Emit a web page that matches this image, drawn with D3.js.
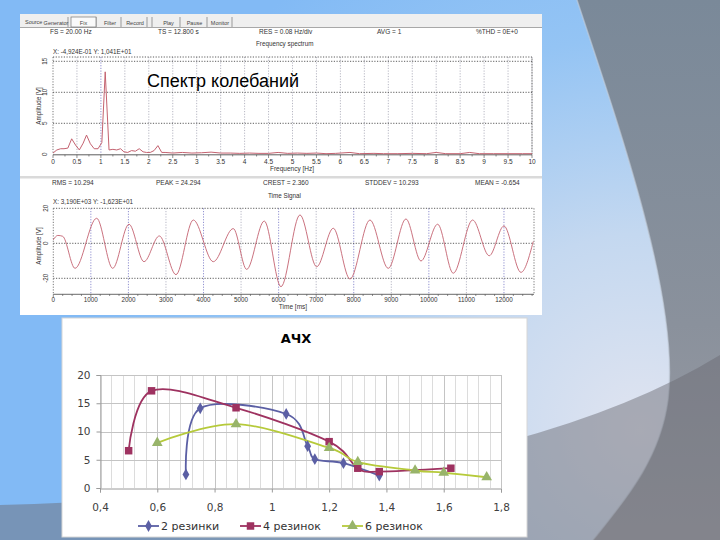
<!DOCTYPE html>
<html><head><meta charset="utf-8">
<script src="https://cdn.jsdelivr.net/npm/d3@7"></script>
<style>html,body{margin:0;padding:0;overflow:hidden;background:#fff}</style>
</head><body>
<svg id="c" width="720" height="540" xmlns="http://www.w3.org/2000/svg"></svg>
<script>
// ---------------- DATA ----------------
// АЧХ chart
const achxTitle = "АЧХ";
const seriesNames = ["2 резинки", "4 резинок", "6 резинок"];
const x2 = [0.7, 0.75, 1.05, 1.125, 1.15, 1.25, 1.375];
const y2 = [2.4, 14.1, 13.1, 7.4, 5.1, 4.4, 2.2];
const x4 = [0.5, 0.58, 0.875, 1.2, 1.3, 1.375, 1.625];
const y4 = [6.6, 17.2, 14.2, 8.2, 3.5, 2.9, 3.5];
const x6 = [0.6, 0.875, 1.2, 1.3, 1.5, 1.6, 1.75];
const y6 = [8.0, 11.3, 7.1, 4.6, 3.1, 2.7, 1.9];
const achxXTicks = [0.4, 0.6, 0.8, 1, 1.2, 1.4, 1.6, 1.8];
const achxXLabels = ["0,4", "0,6", "0,8", "1", "1,2", "1,4", "1,6", "1,8"];
const achxYTicks = [0, 5, 10, 15, 20];

// Frequency spectrum (screenshot)
const specFreq = [0, 0.08, 0.16, 0.23, 0.31, 0.39, 0.47, 0.55, 0.63, 0.70, 0.78, 0.86, 0.94, 1.02, 1.09, 1.17, 1.25, 1.33, 1.41, 1.48, 1.56, 1.64, 1.72, 1.80, 1.88, 1.95, 2.03, 2.11, 2.19, 2.27, 2.34, 2.5, 2.7, 2.9, 3.1, 3.3, 3.5, 3.7, 3.9, 4.1, 4.3, 4.5, 4.7, 4.9, 5.1, 5.3, 5.5, 5.7, 5.9, 6.2, 6.4, 6.7, 6.9, 7.2, 7.5, 7.8, 8.0, 8.2, 8.5, 8.7, 8.9, 9.2, 9.5, 9.8, 10];
const specAmp  = [0.2, 0.7, 0.9, 0.9, 1.0, 2.5, 1.5, 0.7, 1.8, 3.1, 1.7, 0.9, 0.9, 1.9, 13.3, 0.7, 0.8, 0.7, 0.9, 0.4, 0.3, 0.6, 0.5, 0.9, 0.4, 0.3, 0.3, 0.6, 1.4, 0.3, 0.3, 0.2, 0.3, 0.2, 0.25, 0.35, 0.2, 0.2, 0.15, 0.2, 0.15, 0.15, 0.3, 0.15, 0.2, 0.15, 0.2, 0.1, 0.15, 0.3, 0.1, 0.15, 0.1, 0.1, 0.15, 0.1, 0.3, 0.1, 0.1, 0.3, 0.1, 0.1, 0.1, 0.1, 0.1];
const specXTicks = [0, 0.5, 1, 1.5, 2, 2.5, 3, 3.5, 4, 4.5, 5, 5.5, 6, 6.5, 7, 7.5, 8, 8.5, 9, 9.5, 10];
const specYTicks = [0, 5, 10, 15];

// Time signal (screenshot)
const sigTime  = [0, 120, 250, 578, 1155, 1581, 2015, 2415, 2823, 3267, 3728, 4260, 4792, 5149, 5618, 6062, 6568, 7013, 7455, 7900, 8432, 8919, 9390, 9790, 10234, 10650, 11166, 11608, 11999, 12452, 12780];
const sigValue = [2.0, 4.5, 4.0, -14.3, 14.3, -14.3, 10.9, -10.5, 4.2, -17.9, 13.3, -10.5, 8.4, -14.9, 12.7, -24.8, 16.2, -13.4, 8.6, -20.4, 13.3, -14.3, 13.9, -10.1, 10.9, -17.1, 13.3, -7.1, 9.9, -16.6, 1.0];
const sigXTicks = [0, 1000, 2000, 3000, 4000, 5000, 6000, 7000, 8000, 9000, 10000, 11000, 12000];
const sigYTicks = [-20, 0, 20];

// Screenshot texts
const toolbarButtons = ["Generator", "Fix", "Filter", "Record", "Play", "Pause", "Monitor"];
const specHeader = ["FS =  20.00 Hz", "TS =  12.800 s", "RES = 0.08 Hz/div", "AVG =  1", "%THD = 0E+0"];
const sigHeader = ["RMS = 10.294", "PEAK = 24.294", "CREST = 2.360", "STDDEV = 10.293", "MEAN = -0.654"];
const slideLabel = "Спектр колебаний";

// ---------------- DRAW ----------------
const svg = d3.select("#c");
const defs = svg.append("defs");

// slide background
const rg = defs.append("radialGradient").attr("id", "bgGrad").attr("gradientUnits", "userSpaceOnUse")
  .attr("cx", 640).attr("cy", 430).attr("r", 560);
[[0, "#E0E4F0"], [0.35, "#C4D8F0"], [0.7, "#94C4F4"], [1, "#82BAF5"]]
  .forEach(s => rg.append("stop").attr("offset", s[0]).attr("stop-color", s[1]));
svg.append("rect").attr("width", 720).attr("height", 540).attr("fill", "url(#bgGrad)");

const og = defs.append("linearGradient").attr("id", "outGrad").attr("x1", 0).attr("y1", 0).attr("x2", 0).attr("y2", 1);
[[0, "#7A8999"], [0.6, "#8A919C"], [1, "#9A9CA4"]]
  .forEach(s => og.append("stop").attr("offset", s[0]).attr("stop-color", s[1]));
const arcD = "M577,0 C620,130 680,300 668,400 C660,460 625,500 593,540";
svg.append("path").attr("d", arcD + " L720,540 L720,0 Z").attr("fill", "url(#outGrad)");
svg.append("path").attr("d", arcD).attr("fill", "none").attr("stroke", "#C4CEDC").attr("stroke-width", 1.5).attr("opacity", 0.6);
svg.append("path").attr("d", "M0,505 Q500,490 720,355 L720,540 L0,540 Z").attr("fill", "#6A6A72").attr("opacity", 0.48);

// ---------- screenshot ----------
const shot = svg.append("g").attr("font-family", "Liberation Sans, Arial, sans-serif");
shot.append("rect").attr("x", 20).attr("y", 14).attr("width", 522).attr("height", 301).attr("fill", "#fff");
shot.append("rect").attr("x", 20).attr("y", 14).attr("width", 522).attr("height", 13).attr("fill", "#EFEFEF");
shot.append("line").attr("x1", 20).attr("x2", 542).attr("y1", 27.5).attr("y2", 27.5).attr("stroke", "#A8A8A8");
shot.append("text").attr("x", 25).attr("y", 24).attr("font-size", 5.5).attr("fill", "#444").text("Source");
const btnLeft = [44, 71, 99, 123, 157, 182, 208];
const btnW = [24, 25, 22, 24, 23, 25, 24];
toolbarButtons.forEach((b, i) => {
  shot.append("line").attr("x1", btnLeft[i] + btnW[i]).attr("x2", btnLeft[i] + btnW[i]).attr("y1", 17).attr("y2", 27).attr("stroke", "#999");
  if (b === "Fix") shot.append("rect").attr("x", btnLeft[i]).attr("y", 17).attr("width", btnW[i]).attr("height", 10).attr("fill", "#fafafa").attr("stroke", "#777").attr("stroke-width", 0.7);
  shot.append("text").attr("x", btnLeft[i] + btnW[i] / 2).attr("y", 24.5).attr("text-anchor", "middle").attr("font-size", 5.5).attr("fill", "#444").text(b);
});
shot.append("line").attr("x1", 152).attr("x2", 152).attr("y1", 17).attr("y2", 27).attr("stroke", "#999");

const hdrX = [50, 158, 259, 377, 476];
specHeader.forEach((t, i) => shot.append("text").attr("x", hdrX[i]).attr("y", 34).attr("font-size", 6.5).attr("fill", "#333").text(t));
shot.append("text").attr("x", 256).attr("y", 45.5).attr("font-size", 6.3).attr("fill", "#333").text("Frequency spectrum");
shot.append("text").attr("x", 53).attr("y", 53.5).attr("font-size", 6.3).attr("fill", "#333").text("X:  -4,924E-01  Y:   1,041E+01");

// spectrum plot
const xS = d3.scaleLinear().domain([0, 10]).range([53, 532]);
const yS = d3.scaleLinear().domain([0, 15]).range([154.3, 61.3]);
const sp = shot.append("g");
sp.selectAll(".vg").data(specXTicks.slice(1)).join("line")
  .attr("x1", d => xS(d)).attr("x2", d => xS(d)).attr("y1", 57).attr("y2", 154.3)
  .attr("stroke", d => d === 1 ? "#7070C0" : "#A4A4B4").attr("stroke-width", 0.8).attr("stroke-dasharray", "1.2,1.5");
sp.selectAll(".hg").data(specYTicks.slice(1)).join("line")
  .attr("x1", 53).attr("x2", 532).attr("y1", d => yS(d)).attr("y2", d => yS(d))
  .attr("stroke", "#333").attr("stroke-width", 0.8).attr("stroke-dasharray", "1.2,1.5");
sp.append("path").attr("d", "M53,57 H532 V154.3").attr("fill", "none").attr("stroke", "#333").attr("stroke-width", 0.8).attr("stroke-dasharray", "1.2,1.5");
sp.append("line").attr("x1", 53).attr("x2", 53).attr("y1", 57).attr("y2", 154.3).attr("stroke", "#555").attr("stroke-width", 0.8).attr("stroke-dasharray", "1.2,1.5");
sp.append("line").attr("x1", 53).attr("x2", 532).attr("y1", 154.8).attr("y2", 154.8).attr("stroke", "#333").attr("stroke-width", 0.8);
sp.selectAll(".mt").data(d3.range(0, 41).map(i => i * 0.25)).join("line")
  .attr("x1", d => xS(d)).attr("x2", d => xS(d)).attr("y1", 154.8).attr("y2", d => (Math.abs(d * 2 - Math.round(d * 2)) < 1e-6) ? 158 : 156.5)
  .attr("stroke", "#444").attr("stroke-width", 0.6);
sp.selectAll(".xl").data(specXTicks).join("text")
  .attr("x", d => xS(d)).attr("y", 164).attr("text-anchor", "middle").attr("font-size", 6.5).attr("fill", "#333").text(d => d);
sp.selectAll(".yl").data(specYTicks).join("text")
  .attr("transform", d => `translate(47,${yS(d)}) rotate(-90)`).attr("text-anchor", "middle").attr("font-size", 6.3).attr("fill", "#333").text(d => d);
sp.append("text").attr("transform", "translate(41,106) rotate(-90)").attr("text-anchor", "middle").attr("font-size", 6.3).attr("fill", "#333").text("Amplitude [V]");
sp.append("text").attr("x", 292).attr("y", 170.5).attr("text-anchor", "middle").attr("font-size", 6.5).attr("fill", "#333").text("Frequency [Hz]");
const specPts = specFreq.map((f, i) => [f, specAmp[i]]);
sp.append("path").attr("d", d3.line().x(d => xS(d[0])).y(d => yS(d[1]))(specPts))
  .attr("fill", "none").attr("stroke", "#C46270").attr("stroke-width", 1);

shot.append("text").attr("x", 147).attr("y", 87).attr("font-size", 18).attr("fill", "#000").text(slideLabel);

// separator
shot.append("rect").attr("x", 20).attr("y", 176).attr("width", 522).attr("height", 2.5).attr("fill", "#DADADA");

// time signal
const sigHX = [52, 156, 263, 365, 475];
sigHeader.forEach((t, i) => shot.append("text").attr("x", sigHX[i]).attr("y", 185).attr("font-size", 6.5).attr("fill", "#333").text(t));
shot.append("text").attr("x", 268).attr("y", 197.5).attr("font-size", 6.3).attr("fill", "#333").text("Time Signal");
shot.append("text").attr("x", 53).attr("y", 204).attr("font-size", 6.3).attr("fill", "#333").text("X:   3,190E+03  Y:   -1,623E+01");
const xT = d3.scaleLinear().domain([0, 12800]).range([53.3, 534]);
const yT = d3.scaleLinear().domain([-20, 20]).range([278.3, 208.3]);
const tp = shot.append("g");
tp.selectAll(".vg").data(sigXTicks.slice(1)).join("line")
  .attr("x1", d => xT(d)).attr("x2", d => xT(d)).attr("y1", 208.3).attr("y2", 294)
  .attr("stroke", d => (d % 2000 === 0 || d === 1000) ? "#7474C4" : "#A4A4B6").attr("stroke-width", 0.8).attr("stroke-dasharray", "1.2,1.5");
tp.selectAll(".hg").data(sigYTicks).join("line")
  .attr("x1", 53.3).attr("x2", 534).attr("y1", d => yT(d)).attr("y2", d => yT(d))
  .attr("stroke", "#333").attr("stroke-width", 0.8).attr("stroke-dasharray", "1.2,1.5");
tp.append("line").attr("x1", 534).attr("x2", 534).attr("y1", 208.3).attr("y2", 294).attr("stroke", "#555").attr("stroke-width", 0.8).attr("stroke-dasharray", "1.2,1.5");
tp.append("line").attr("x1", 53.3).attr("x2", 53.3).attr("y1", 208.3).attr("y2", 294).attr("stroke", "#555").attr("stroke-width", 0.8).attr("stroke-dasharray", "1.2,1.5");
tp.append("line").attr("x1", 53.3).attr("x2", 534).attr("y1", 294.3).attr("y2", 294.3).attr("stroke", "#444").attr("stroke-width", 0.8);
tp.selectAll(".mt").data(d3.range(0, 52).map(i => i * 250)).join("line")
  .attr("x1", d => xT(d)).attr("x2", d => xT(d)).attr("y1", 294.3).attr("y2", d => d % 1000 === 0 ? 297.5 : 296)
  .attr("stroke", "#444").attr("stroke-width", 0.6);
tp.selectAll(".xl").data(sigXTicks).join("text")
  .attr("x", d => xT(d)).attr("y", 301.5).attr("text-anchor", "middle").attr("font-size", 6.3).attr("fill", "#333").text(d => d);
tp.selectAll(".yl").data(sigYTicks).join("text")
  .attr("transform", d => `translate(48,${yT(d)}) rotate(-90)`).attr("text-anchor", "middle").attr("font-size", 6.3).attr("fill", "#333").text(d => d);
tp.append("text").attr("transform", "translate(41,246) rotate(-90)").attr("text-anchor", "middle").attr("font-size", 6.3).attr("fill", "#333").text("Amplitude [V]");
tp.append("text").attr("x", 293).attr("y", 309).attr("text-anchor", "middle").attr("font-size", 6.5).attr("fill", "#333").text("Time [ms]");
const sigPts = sigTime.map((t, i) => [t, sigValue[i]]);
tp.append("path").attr("d", d3.line().x(d => xT(d[0])).y(d => yT(d[1])).curve(d3.curveMonotoneX)(sigPts))
  .attr("fill", "none").attr("stroke", "#C46270").attr("stroke-width", 0.9);

// ---------- АЧХ chart ----------
const ch = svg.append("g").attr("font-family", "DejaVu Sans, Verdana, sans-serif");
ch.append("rect").attr("x", 62).attr("y", 318).attr("width", 465).attr("height", 219).attr("fill", "#fff").attr("stroke", "#D6D6D6");
const xA = d3.scaleLinear().domain([0.4, 1.8]).range([100, 501]);
const yA = d3.scaleLinear().domain([0, 20]).range([488, 375]);

const minorX = d3.range(0, 36).map(i => 0.4 + i * 0.04);
ch.append("g").selectAll("line").data(minorX).join("line")
  .attr("x1", d => Math.round(xA(d)) + 0.5).attr("x2", d => Math.round(xA(d)) + 0.5).attr("y1", yA(20)).attr("y2", yA(0))
  .attr("stroke", "#DCDCDC").attr("stroke-width", 1);
ch.append("g").selectAll("line").data(achxXTicks.slice(1)).join("line")
  .attr("x1", d => Math.round(xA(d)) + 0.5).attr("x2", d => Math.round(xA(d)) + 0.5).attr("y1", yA(20)).attr("y2", yA(0))
  .attr("stroke", "#C4C4C4").attr("stroke-width", 1);
ch.append("g").selectAll("line").data(achxYTicks.slice(1)).join("line")
  .attr("x1", xA(0.4)).attr("x2", xA(1.8)).attr("y1", d => Math.round(yA(d)) + 0.5).attr("y2", d => Math.round(yA(d)) + 0.5)
  .attr("stroke", "#C4C4C4").attr("stroke-width", 1);

// axes
const yAxis = d3.axisLeft(yA).tickValues(achxYTicks).tickSize(4).tickPadding(6);
const gy = ch.append("g").attr("transform", `translate(${Math.round(xA(0.4)) + 0.5},0)`).call(yAxis);
gy.select(".domain").attr("stroke", "#9A9A9A");
gy.selectAll(".tick line").attr("stroke", "#9A9A9A");
gy.selectAll("text").attr("font-family", "DejaVu Sans, Verdana, sans-serif").attr("font-size", 10.5).attr("fill", "#404040");
const xAxis = d3.axisBottom(xA).tickValues(achxXTicks).tickSize(4).tickPadding(11).tickFormat((d, i) => achxXLabels[i]);
const gx = ch.append("g").attr("transform", `translate(0,${Math.round(yA(0)) + 0.5})`).call(xAxis);
gx.select(".domain").attr("stroke", "#9A9A9A");
gx.selectAll(".tick line").attr("stroke", "#9A9A9A");
gx.selectAll("text").attr("font-family", "DejaVu Sans, Verdana, sans-serif").attr("font-size", 10.5).attr("fill", "#404040");

ch.append("text").attr("x", 296).attr("y", 343).attr("text-anchor", "middle").attr("font-size", 13).attr("font-weight", "bold").attr("fill", "#000").text(achxTitle);

const colors = ["#5B5FA4", "#9E3260", "#B6CA3A"];
const markerFill = ["#5B5FA4", "#9E3260", "#98B46A"];
const symbols = [d3.symbolDiamond, d3.symbolSquare, d3.symbolTriangle];
const symSize = [40, 56, 50];
const seriesData = [
  x2.map((x, i) => [x, y2[i]]),
  x4.map((x, i) => [x, y4[i]]),
  x6.map((x, i) => [x, y6[i]])
];
const lineGen = d3.line().x(d => xA(d[0])).y(d => yA(d[1])).curve(d3.curveCardinal.tension(0));
seriesData.forEach((pts, s) => {
  ch.append("path").attr("d", lineGen(pts)).attr("fill", "none").attr("stroke", colors[s]).attr("stroke-width", 1.8);
});
seriesData.forEach((pts, s) => {
  ch.append("g").selectAll("path").data(pts).join("path")
    .attr("transform", d => `translate(${xA(d[0])},${yA(d[1])})`)
    .attr("d", d3.symbol().type(symbols[s]).size(symSize[s]))
    .attr("fill", markerFill[s]);
});

// legend
const legX = [138, 240, 342];
seriesNames.forEach((n, s) => {
  const g = ch.append("g").attr("transform", `translate(${legX[s]},526)`);
  g.append("line").attr("x1", 0).attr("x2", 21).attr("stroke", colors[s]).attr("stroke-width", 1.8);
  g.append("path").attr("transform", "translate(10.5,0)").attr("d", d3.symbol().type(symbols[s]).size(symSize[s])).attr("fill", markerFill[s]);
  g.append("text").attr("x", 23).attr("y", 4).attr("font-size", 11).attr("fill", "#333").text(n);
});
</script>
</body></html>
